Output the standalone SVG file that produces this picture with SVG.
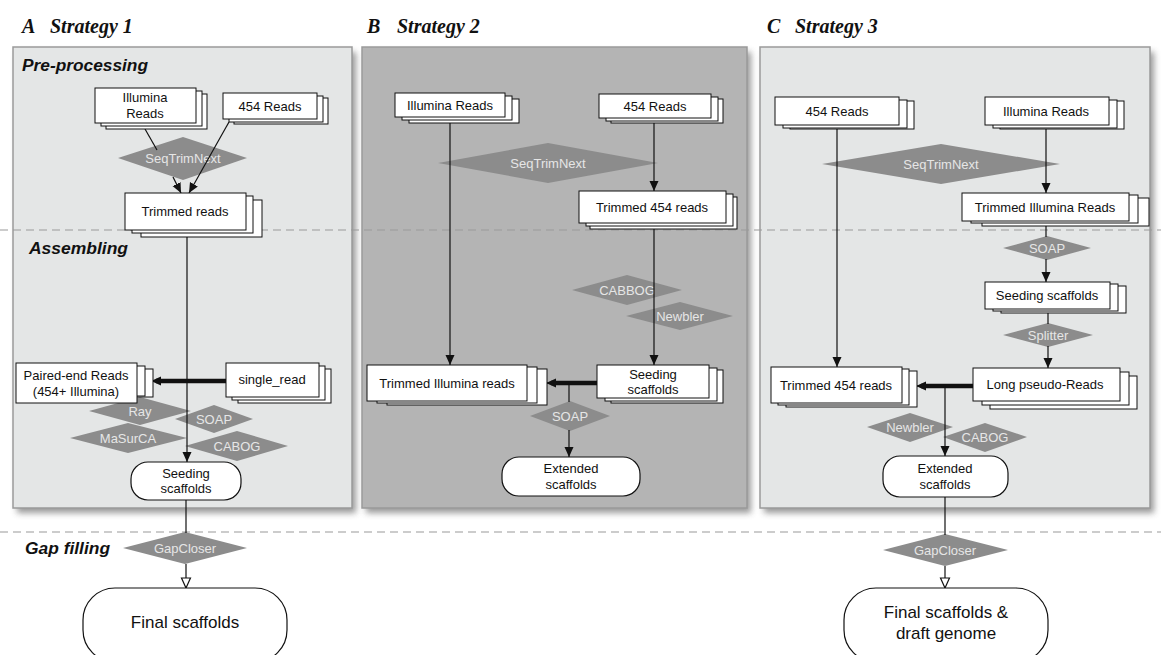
<svg xmlns="http://www.w3.org/2000/svg" width="1161" height="655" viewBox="0 0 1161 655">
<style>
.head{font-family:"Liberation Serif",serif;font-weight:bold;font-style:italic;font-size:20px;fill:#111}
.sec{font-family:"Liberation Sans",sans-serif;font-weight:bold;font-style:italic;font-size:16px;fill:#111}
.doc{fill:#fff;stroke:#111;stroke-width:1}
.pill{fill:#fff;stroke:#111;stroke-width:1.2}
.t{font-family:"Liberation Sans",sans-serif;font-size:13px;fill:#111;text-anchor:middle}
.tb{font-family:"Liberation Sans",sans-serif;font-size:17px;fill:#111;text-anchor:middle}
.dia{fill:#8c8c8c}
.dt{font-family:"Liberation Sans",sans-serif;font-size:13px;fill:#e6e6e6;text-anchor:middle}
.ln{stroke:#111;stroke-width:1.2;fill:none}
.thick{stroke:#111;stroke-width:4.5;fill:none}
.dash{stroke:#999;stroke-width:1.2;stroke-dasharray:8 5;fill:none}
.panel{stroke:#9a9a9a;stroke-width:1.5}
</style>
<defs>
<filter id="sh" x="-5%" y="-5%" width="115%" height="115%"><feGaussianBlur stdDeviation="3"/></filter>
<marker id="ar" markerUnits="userSpaceOnUse" markerWidth="10" markerHeight="10" refX="10" refY="5" orient="auto"><path d="M0,0.5 L10,5 L0,9.5 z" fill="#111"/></marker>
<marker id="oar" markerUnits="userSpaceOnUse" markerWidth="12" markerHeight="12" refX="11" refY="6" orient="auto"><path d="M1,1.5 L11,6 L1,10.5 z" fill="#fff" stroke="#111" stroke-width="1.2"/></marker>
</defs>
<rect width="1161" height="655" fill="#fff"/>

<g id="panels">
<rect x="17" y="52" width="339" height="461" fill="#555" opacity="0.6" filter="url(#sh)"/>
<rect x="13" y="47" width="339" height="461" fill="#e4e6e6" class="panel"/>
<rect x="366" y="52" width="385" height="461" fill="#555" opacity="0.6" filter="url(#sh)"/>
<rect x="362" y="47" width="385" height="461" fill="#b4b4b4" class="panel"/>
<rect x="764" y="52" width="390" height="461" fill="#555" opacity="0.6" filter="url(#sh)"/>
<rect x="760" y="47" width="390" height="461" fill="#e4e6e6" class="panel"/>
</g>

<g id="titles">
<text class="head" x="22" y="33">A</text><text class="head" x="50" y="33">Strategy 1</text>
<text class="head" x="367" y="33">B</text><text class="head" x="397" y="33">Strategy 2</text>
<text class="head" x="767" y="33">C</text><text class="head" x="795" y="33">Strategy 3</text>
<text class="sec" x="22" y="71" textLength="126" lengthAdjust="spacingAndGlyphs">Pre-processing</text>
<text class="sec" x="29" y="254" textLength="99" lengthAdjust="spacingAndGlyphs">Assembling</text>
<text class="sec" x="25" y="554" textLength="85" lengthAdjust="spacingAndGlyphs">Gap filling</text>
</g>

<g id="dividers">
<line class="dash" x1="0" y1="230" x2="1161" y2="230"/>
<line class="dash" x1="0" y1="532" x2="1161" y2="532"/>
</g>

<g id="A_seqtrim"><polygon class="dia" points="118,158 183,137 247,158 183,180"/><text class="dt" x="183" y="163">SeqTrimNext</text></g>
<g id="A_ray"><polygon class="dia" points="89,411 140,397 191,411 140,425"/><text class="dt" x="140" y="416">Ray</text></g>
<g id="A_soap"><polygon class="dia" points="175,419 214,405 253,419 214,433"/><text class="dt" x="214" y="424">SOAP</text></g>
<g id="A_masurca"><polygon class="dia" points="70,438 128,423 187,438 128,453"/><text class="dt" x="128" y="443">MaSurCA</text></g>
<g id="A_cabog"><polygon class="dia" points="185,446 237,431 288,446 237,461"/><text class="dt" x="237" y="451">CABOG</text></g>
<g id="A_gapcloser"><polygon class="dia" points="123,548 185,532 247,548 185,564"/><text class="dt" x="185" y="553">GapCloser</text></g>

<g id="B_seqtrim"><polygon class="dia" points="438,163 548,143 658,163 548,183"/><text class="dt" x="548" y="168">SeqTrimNext</text></g>
<g id="B_cabbog"><polygon class="dia" points="572,290 627,275 682,290 627,305"/><text class="dt" x="627" y="295">CABBOG</text></g>
<g id="B_newbler"><polygon class="dia" points="626,316 680,302 733,316 680,330"/><text class="dt" x="680" y="321">Newbler</text></g>
<g id="B_soap"><polygon class="dia" points="530,416 570,401 610,416 570,431"/><text class="dt" x="570" y="421">SOAP</text></g>

<g id="C_seqtrim"><polygon class="dia" points="822,164 941,144 1060,164 941,184"/><text class="dt" x="941" y="169">SeqTrimNext</text></g>
<g id="C_soap"><polygon class="dia" points="1003,248 1047,236 1091,248 1047,260"/><text class="dt" x="1047" y="253">SOAP</text></g>
<g id="C_splitter"><polygon class="dia" points="1003,335 1048,323 1093,335 1048,347"/><text class="dt" x="1048" y="340">Splitter</text></g>
<g id="C_newbler"><polygon class="dia" points="867,427 910,413 953,427 910,442"/><text class="dt" x="910" y="432">Newbler</text></g>
<g id="C_cabog"><polygon class="dia" points="943,437 985,423 1027,437 985,452"/><text class="dt" x="985" y="442">CABOG</text></g>
<g id="C_gapcloser"><polygon class="dia" points="883,550 945,534 1008,550 945,566"/><text class="dt" x="945" y="555">GapCloser</text></g>

<g id="connectors">
<line class="ln" x1="145" y1="129" x2="157" y2="150"/>
<line class="ln" x1="173" y1="177" x2="181" y2="193" marker-end="url(#ar)"/>
<line class="ln" x1="229" y1="122" x2="189" y2="193" marker-end="url(#ar)"/>
<line class="ln" x1="187" y1="237" x2="187" y2="462" marker-end="url(#ar)"/>
<line class="thick" x1="226" y1="381" x2="156" y2="381"/>
<line class="ln" x1="160" y1="381" x2="151" y2="381" marker-end="url(#ar)"/>
<line class="ln" x1="186" y1="500" x2="186" y2="533"/>
<line class="ln" x1="186" y1="564" x2="186" y2="588" marker-end="url(#oar)"/>

<line class="ln" x1="450" y1="117" x2="450" y2="365" marker-end="url(#ar)"/>
<line class="ln" x1="654" y1="118" x2="654" y2="191" marker-end="url(#ar)"/>
<line class="ln" x1="654" y1="229" x2="654" y2="365" marker-end="url(#ar)"/>
<line class="thick" x1="597" y1="383" x2="551" y2="383"/>
<line class="ln" x1="555" y1="383" x2="546" y2="383" marker-end="url(#ar)"/>
<line class="ln" x1="569" y1="383" x2="569" y2="402"/>
<line class="ln" x1="569" y1="430" x2="569" y2="457" marker-end="url(#ar)"/>

<line class="ln" x1="837" y1="128" x2="837" y2="367" marker-end="url(#ar)"/>
<line class="ln" x1="1046" y1="125" x2="1046" y2="193" marker-end="url(#ar)"/>
<line class="ln" x1="1046" y1="226" x2="1046" y2="237"/>
<line class="ln" x1="1046" y1="259" x2="1046" y2="282" marker-end="url(#ar)"/>
<line class="ln" x1="1048" y1="313" x2="1048" y2="324"/>
<line class="ln" x1="1048" y1="346" x2="1048" y2="368" marker-end="url(#ar)"/>
<line class="thick" x1="973" y1="386" x2="921" y2="386"/>
<line class="ln" x1="925" y1="386" x2="916" y2="386" marker-end="url(#ar)"/>
<line class="ln" x1="945" y1="386" x2="945" y2="456" marker-end="url(#ar)"/>
<line class="ln" x1="945" y1="497" x2="945" y2="535"/>
<line class="ln" x1="945" y1="566" x2="945" y2="588" marker-end="url(#oar)"/>
</g>

<g id="A_illumina">
<rect class="doc" x="106" y="94" width="101" height="35"/><rect class="doc" x="101" y="91" width="101" height="35"/><rect class="doc" x="95" y="88" width="101" height="35"/>
<text class="t" x="145" y="102">Illumina</text><text class="t" x="145" y="118">Reads</text>
</g>
<g id="A_454">
<rect class="doc" x="234" y="98" width="94" height="26"/><rect class="doc" x="229" y="96" width="94" height="26"/><rect class="doc" x="223" y="93" width="94" height="26"/>
<text class="t" x="270" y="111">454 Reads</text>
</g>
<g id="A_trimmed">
<rect class="doc" x="141" y="200" width="121" height="37"/><rect class="doc" x="132" y="196" width="121" height="37"/><rect class="doc" x="125" y="193" width="121" height="37"/>
<text class="t" x="185" y="216">Trimmed reads</text>
</g>
<g id="A_paired">
<rect class="doc" x="32" y="369" width="121" height="28"/><rect class="doc" x="24" y="366" width="121" height="30"/><rect class="doc" x="16" y="363" width="121" height="40"/>
<text class="t" x="76" y="380">Paired-end Reads</text><text class="t" x="76" y="396">(454+ Illumina)</text>
</g>
<g id="A_single">
<rect class="doc" x="238" y="369" width="93" height="34"/><rect class="doc" x="232" y="366" width="93" height="34"/><rect class="doc" x="226" y="363" width="93" height="34"/>
<text class="t" x="272" y="384">single_read</text>
</g>
<g id="A_seeding">
<rect class="pill" x="131" y="462" width="110" height="38" rx="17"/>
<text class="t" x="186" y="478">Seeding</text><text class="t" x="186" y="493">scaffolds</text>
</g>
<g id="A_final">
<rect class="pill" x="83" y="588" width="204" height="74" rx="32"/>
<text class="tb" x="185" y="628">Final scaffolds</text>
</g>

<g id="B_illumina">
<rect class="doc" x="409" y="99" width="110" height="24"/><rect class="doc" x="402" y="96" width="110" height="24"/><rect class="doc" x="395" y="93" width="110" height="24"/>
<text class="t" x="450" y="110">Illumina Reads</text>
</g>
<g id="B_454">
<rect class="doc" x="611" y="99" width="112" height="24"/><rect class="doc" x="606" y="97" width="112" height="24"/><rect class="doc" x="599" y="94" width="112" height="24"/>
<text class="t" x="655" y="111">454 Reads</text>
</g>
<g id="B_trim454">
<rect class="doc" x="590" y="197" width="147" height="32"/><rect class="doc" x="586" y="194" width="147" height="32"/><rect class="doc" x="579" y="191" width="147" height="32"/>
<text class="t" x="652" y="212">Trimmed 454 reads</text>
</g>
<g id="B_trimill">
<rect class="doc" x="387" y="369" width="160" height="36"/><rect class="doc" x="377" y="367" width="160" height="36"/><rect class="doc" x="367" y="365" width="160" height="36"/>
<text class="t" x="447" y="388">Trimmed Illumina reads</text>
</g>
<g id="B_seeding">
<rect class="doc" x="611" y="370" width="112" height="33"/><rect class="doc" x="605" y="368" width="112" height="33"/><rect class="doc" x="597" y="365" width="112" height="33"/>
<text class="t" x="653" y="379">Seeding</text><text class="t" x="653" y="394">scaffolds</text>
</g>
<g id="B_extended">
<rect class="pill" x="502" y="457" width="138" height="39" rx="17"/>
<text class="t" x="571" y="473">Extended</text><text class="t" x="571" y="489">scaffolds</text>
</g>

<g id="C_454">
<rect class="doc" x="790" y="101" width="124" height="28"/><rect class="doc" x="783" y="100" width="124" height="28"/><rect class="doc" x="775" y="97" width="124" height="28"/>
<text class="t" x="837" y="116">454 Reads</text>
</g>
<g id="C_illumina">
<rect class="doc" x="1000" y="101" width="124" height="28"/><rect class="doc" x="993" y="100" width="124" height="28"/><rect class="doc" x="985" y="97" width="124" height="28"/>
<text class="t" x="1046" y="116">Illumina Reads</text>
</g>
<g id="C_trimill">
<rect class="doc" x="982" y="198" width="167" height="28"/><rect class="doc" x="971" y="195" width="167" height="28"/><rect class="doc" x="962" y="193" width="167" height="28"/>
<text class="t" x="1045" y="212">Trimmed Illumina Reads</text>
</g>
<g id="C_seeding">
<rect class="doc" x="1001" y="286" width="125" height="27"/><rect class="doc" x="993" y="284" width="125" height="27"/><rect class="doc" x="985" y="282" width="125" height="27"/>
<text class="t" x="1047" y="300">Seeding scaffolds</text>
</g>
<g id="C_long">
<rect class="doc" x="990" y="376" width="147" height="33"/><rect class="doc" x="982" y="372" width="147" height="33"/><rect class="doc" x="973" y="368" width="147" height="33"/>
<text class="t" x="1045" y="389">Long pseudo-Reads</text>
</g>
<g id="C_trim454">
<rect class="doc" x="786" y="371" width="131" height="36"/><rect class="doc" x="778" y="369" width="131" height="36"/><rect class="doc" x="771" y="367" width="131" height="36"/>
<text class="t" x="836" y="390">Trimmed 454 reads</text>
</g>
<g id="C_extended">
<rect class="pill" x="883" y="456" width="125" height="41" rx="17"/>
<text class="t" x="945" y="473">Extended</text><text class="t" x="945" y="489">scaffolds</text>
</g>
<g id="C_final">
<rect class="pill" x="844" y="588" width="204" height="74" rx="32"/>
<text class="tb" x="946" y="618">Final scaffolds &amp;</text><text class="tb" x="946" y="639">draft genome</text>
</g>
</svg>
